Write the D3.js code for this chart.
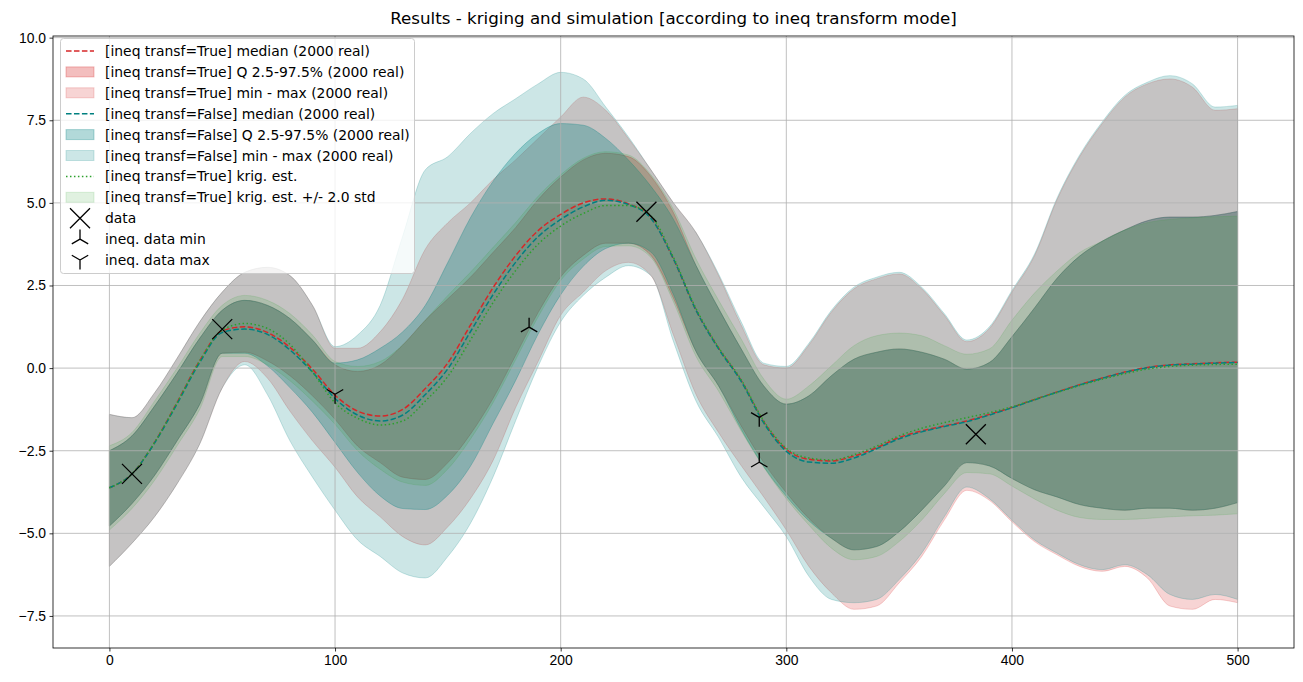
<!DOCTYPE html>
<meta charset="utf-8">
<html>
<head><title>Results - kriging and simulation</title>
<script src="https://cdn.jsdelivr.net/npm/d3@7/dist/d3.min.js"></script>
<style>
    body { margin: 0; background: #fff; }
    svg { font-family: "DejaVu Sans", sans-serif; }
    .tick text { font-size: 13.9px; fill: #000; }
    .tick line { stroke: #000; stroke-width: 0.8; }
    .grid { stroke: #b0b0b0; stroke-width: 0.8; }
</style>
</head>
<body>
<script>
// sample locations (x), every 10 units
var xs = d3.range(0, 501, 10);

// medians of the 2000 realisations
var medTrue  = [-3.62,-3.2,-2.25,-1.04,0.22,1.13,1.25,1.08,0.63,-0.03,-0.82,-1.3,-1.45,-1.25,-0.62,0.16,1.3,2.43,3.4,4.16,4.65,5.0,5.12,4.97,4.55,3.3,1.75,0.6,-0.38,-1.63,-2.46,-2.76,-2.81,-2.66,-2.41,-2.1,-1.9,-1.75,-1.6,-1.4,-1.19,-0.95,-0.72,-0.5,-0.3,-0.12,0.02,0.1,0.13,0.16,0.18];
var medFalse = [-3.62,-3.2,-2.27,-1.08,0.17,1.08,1.18,1.02,0.55,-0.12,-0.92,-1.42,-1.6,-1.42,-0.8,-0.02,1.1,2.22,3.2,3.98,4.5,4.88,5.08,4.95,4.53,3.3,1.75,0.58,-0.4,-1.66,-2.52,-2.84,-2.88,-2.72,-2.44,-2.14,-1.93,-1.77,-1.62,-1.42,-1.2,-0.96,-0.73,-0.51,-0.31,-0.13,0.01,0.09,0.12,0.15,0.17];
var krigEst  = [-3.62,-3.2,-2.25,-1.05,0.22,1.15,1.35,1.2,0.72,-0.12,-1.05,-1.52,-1.72,-1.6,-1.0,-0.25,0.85,1.98,2.95,3.75,4.3,4.68,4.92,4.92,4.6,3.35,1.8,0.62,-0.35,-1.6,-2.43,-2.72,-2.78,-2.62,-2.36,-2.05,-1.82,-1.65,-1.5,-1.35,-1.17,-0.95,-0.74,-0.53,-0.34,-0.17,-0.03,0.05,0.09,0.11,0.12];

// quantile bands 2.5 - 97.5 %
var trueQlo  = [-4.78,-4.1,-3.25,-2.2,-1.1,0.45,0.48,0.22,-0.23,-0.84,-1.55,-2.36,-2.86,-3.3,-3.37,-2.86,-2.0,-0.92,0.38,1.68,2.76,3.41,3.78,3.78,3.41,2.11,0.5,-0.54,-1.75,-2.86,-3.77,-4.55,-5.15,-5.5,-5.4,-4.95,-4.3,-3.57,-2.86,-2.96,-3.34,-3.68,-3.9,-4.13,-4.24,-4.3,-4.24,-4.24,-4.3,-4.24,-4.07];
var trueQhi  = [-2.5,-2.05,-1.15,-0.15,0.9,1.75,2.05,1.9,1.5,0.85,0.1,-0.1,0.1,0.7,1.45,2.1,2.75,3.5,4.25,5.1,5.78,6.3,6.5,6.4,5.8,4.7,3.1,1.8,0.58,-0.54,-1.09,-0.84,-0.23,0.27,0.48,0.58,0.48,0.27,-0.03,0.17,0.95,1.82,2.72,3.39,3.84,4.18,4.46,4.57,4.57,4.62,4.74];
var falseQlo = [-4.78,-4.1,-3.25,-2.2,-1.1,0.45,0.45,0.07,-0.59,-1.34,-2.25,-3.16,-3.87,-4.25,-4.28,-3.84,-2.97,-1.68,-0.38,1.03,2.22,3.08,3.62,3.78,3.51,2.22,0.5,-0.54,-1.85,-2.98,-3.88,-4.62,-5.15,-5.5,-5.4,-4.95,-4.3,-3.57,-2.86,-2.96,-3.34,-3.68,-3.9,-4.13,-4.24,-4.3,-4.24,-4.24,-4.3,-4.24,-4.07];
var falseQhi = [-2.5,-2.05,-1.15,-0.15,0.9,1.75,2.05,1.9,1.5,0.85,0.15,0.25,0.6,1.1,1.9,3.2,4.55,5.65,6.5,7.1,7.4,7.35,6.95,6.3,5.5,4.5,3.1,1.8,0.58,-0.54,-1.09,-0.84,-0.23,0.27,0.48,0.58,0.48,0.27,-0.03,0.17,0.95,1.82,2.72,3.39,3.84,4.18,4.46,4.57,4.57,4.62,4.74];

// min - max envelopes
var trueMin  = [-6.0,-5.3,-4.5,-3.5,-2.3,-0.6,0.2,-0.3,-1.3,-2.2,-3.0,-3.9,-4.5,-5.1,-5.35,-4.8,-3.95,-2.8,-1.2,0.2,1.6,2.3,2.95,3.2,2.8,1.0,-0.8,-1.95,-2.95,-3.9,-4.9,-6.0,-6.8,-7.3,-7.2,-6.5,-5.7,-4.6,-3.7,-4.0,-4.65,-5.25,-5.65,-6.0,-6.15,-6.0,-6.35,-7.2,-7.3,-7.0,-7.1];
var trueMax  = [-1.4,-1.5,-0.75,0.3,1.4,2.3,2.9,3.05,2.8,1.9,0.6,0.6,1.1,2.1,3.6,4.4,5.0,5.7,6.3,6.95,7.6,8.2,7.8,6.95,6.0,5.0,4.1,2.8,1.3,0.1,0.0,0.7,1.7,2.4,2.7,2.85,2.4,1.6,0.8,1.2,2.3,3.4,5.1,6.4,7.4,8.2,8.6,8.75,8.5,7.8,7.85];
var falseMin = [-6.0,-5.3,-4.5,-3.5,-2.3,-0.6,0.1,-0.8,-2.2,-3.3,-4.3,-5.2,-5.7,-6.2,-6.35,-5.7,-4.7,-3.3,-1.6,0.05,1.4,2.2,2.75,3.1,2.8,0.8,-1.0,-2.1,-3.3,-4.2,-5.1,-6.3,-7.0,-7.1,-7.0,-6.4,-5.6,-4.5,-3.6,-3.95,-4.6,-5.2,-5.6,-5.95,-6.1,-5.95,-6.25,-6.85,-7.0,-6.85,-7.0];
var falseMax = [-1.4,-1.5,-0.75,0.3,1.4,2.3,2.9,3.05,2.8,1.9,0.65,1.0,1.9,4.0,6.0,6.4,7.1,7.7,8.15,8.6,8.95,8.75,7.9,7.0,6.0,5.0,4.1,2.85,1.4,0.15,0.05,0.75,1.75,2.45,2.75,2.9,2.45,1.65,0.85,1.25,2.35,3.45,5.15,6.45,7.45,8.25,8.65,8.85,8.6,7.9,7.95];

// kriging +/- 2 std
var krigLo = [-4.9,-4.25,-3.4,-2.35,-1.25,0.35,0.35,0.1,-0.38,-1.0,-1.7,-2.5,-3.06,-3.45,-3.55,-3.05,-2.15,-1.05,0.25,1.55,2.65,3.3,3.68,3.7,3.35,2.0,0.35,-0.7,-1.9,-3.0,-3.95,-4.75,-5.45,-5.8,-5.7,-5.25,-4.6,-3.8,-3.16,-3.2,-3.57,-3.96,-4.3,-4.52,-4.58,-4.58,-4.55,-4.5,-4.47,-4.45,-4.41];
var krigHi = [-2.35,-1.95,-1.0,0.0,1.05,1.9,2.2,2.05,1.65,1.0,0.2,0.05,0.2,0.7,1.45,2.2,2.9,3.65,4.4,5.2,5.85,6.35,6.55,6.45,5.85,4.8,3.3,2.05,0.88,-0.33,-0.94,-0.54,0.07,0.68,0.98,1.06,0.98,0.68,0.42,0.58,1.45,2.27,2.94,3.5,3.84,4.18,4.4,4.5,4.55,4.58,4.6];

// conditioning data
var dataX = [10, 50, 238, 384];
var dataY = [-3.2, 1.18, 4.73, -2.0];
var ineqMinX = [186, 288];
var ineqMinY = [1.24, -2.85];
var ineqMaxX = [100, 288];
var ineqMaxY = [-0.79, -1.49];

var xTicks = [0, 100, 200, 300, 400, 500];
var yTicks = [-7.5, -5.0, -2.5, 0.0, 2.5, 5.0, 7.5, 10.0];

var W = 1303, H = 682;
var axL = 53, axR = 1294, axT = 36, axB = 648;

var red = "#d62728", teal = "#008080", green = "#2ca02c";

var svg = d3.select("body").append("svg")
    .attr("width", W).attr("height", H);

var x = d3.scaleLinear().domain([-25, 525]).range([axL, axR]);
var y = d3.scaleLinear().domain([-8.47, 10.05]).range([axB, axT]);

svg.append("defs").append("clipPath").attr("id", "clip")
    .append("rect").attr("x", axL).attr("y", axT)
    .attr("width", axR - axL).attr("height", axB - axT);

var plot = svg.append("g").attr("clip-path", "url(#clip)");

function band(lo, hi, color, alpha) {
    var area = d3.area()
        .x(function(d, i) { return x(xs[i]); })
        .y0(function(d, i) { return y(lo[i]); })
        .y1(function(d, i) { return y(hi[i]); })
        .curve(d3.curveMonotoneX);
    plot.append("path")
        .attr("d", area(xs))
        .attr("fill", color).attr("fill-opacity", alpha)
        .attr("stroke", color).attr("stroke-opacity", alpha)
        .attr("stroke-width", 1);
}

band(trueQlo, trueQhi, red, 0.3);
band(trueMin, trueMax, red, 0.2);
band(falseQlo, falseQhi, teal, 0.3);
band(falseMin, falseMax, teal, 0.2);
band(krigLo, krigHi, green, 0.15);

// grid (above fills, below lines)
plot.selectAll(".gx").data(xTicks).enter().append("line")
    .attr("class", "grid")
    .attr("x1", d => x(d)).attr("x2", d => x(d))
    .attr("y1", axT).attr("y2", axB);
plot.selectAll(".gy").data(yTicks).enter().append("line")
    .attr("class", "grid")
    .attr("x1", axL).attr("x2", axR)
    .attr("y1", d => y(d)).attr("y2", d => y(d));

function curve(vals, color, dash) {
    var line = d3.line()
        .x(function(d, i) { return x(xs[i]); })
        .y(function(d) { return y(d); })
        .curve(d3.curveMonotoneX);
    plot.append("path")
        .attr("d", line(vals))
        .attr("fill", "none")
        .attr("stroke", color).attr("stroke-width", 1.5)
        .attr("stroke-dasharray", dash);
}
curve(medTrue, red, "5.55,2.4");
curve(medFalse, teal, "5.55,2.4");
curve(krigEst, green, "1.5,2.475");

// markers
var xMark = "M-10,-10L10,10M-10,10L10,-10";
var triUp = "M0,0L0,-9.5M0,0L-8.2,4.75M0,0L8.2,4.75";
var triDown = "M0,0L0,9.5M0,0L-8.2,-4.75M0,0L8.2,-4.75";

function markers(xv, yv, path) {
    plot.selectAll(null).data(xv).enter().append("path")
        .attr("d", path)
        .attr("transform", function(d, i) { return "translate(" + x(d) + "," + y(yv[i]) + ")"; })
        .attr("fill", "none").attr("stroke", "#000").attr("stroke-width", 1.3);
}
markers(dataX, dataY, xMark);
markers(ineqMinX, ineqMinY, triUp);
markers(ineqMaxX, ineqMaxY, triDown);

// axes
var xAxis = d3.axisBottom(x).tickValues(xTicks).tickSize(3.5).tickPadding(3.5)
    .tickFormat(d3.format("d"));
svg.append("g").attr("transform", "translate(0," + axB + ")").call(xAxis)
    .call(g => g.select(".domain").remove());
var yAxis = d3.axisLeft(y).tickValues(yTicks).tickSize(3.5).tickPadding(3.5)
    .tickFormat(d3.format(".1f"));
svg.append("g").attr("transform", "translate(" + axL + ",0)").call(yAxis)
    .call(g => g.select(".domain").remove());

svg.append("rect")
    .attr("x", axL).attr("y", axT)
    .attr("width", axR - axL).attr("height", axB - axT)
    .attr("fill", "none").attr("stroke", "#000").attr("stroke-width", 0.8);

svg.append("text")
    .attr("x", (axL + axR) / 2).attr("y", 24)
    .attr("text-anchor", "middle")
    .attr("font-size", "16.7px")
    .text("Results - kriging and simulation [according to ineq transform mode]");

// legend
var legendItems = [
    {label: "[ineq transf=True] median (2000 real)", type: "line", color: red, dash: "5.55,2.4"},
    {label: "[ineq transf=True] Q 2.5-97.5% (2000 real)", type: "patch", color: red, alpha: 0.3},
    {label: "[ineq transf=True] min - max (2000 real)", type: "patch", color: red, alpha: 0.2},
    {label: "[ineq transf=False] median (2000 real)", type: "line", color: teal, dash: "5.55,2.4"},
    {label: "[ineq transf=False] Q 2.5-97.5% (2000 real)", type: "patch", color: teal, alpha: 0.3},
    {label: "[ineq transf=False] min - max (2000 real)", type: "patch", color: teal, alpha: 0.2},
    {label: "[ineq transf=True] krig. est.", type: "line", color: green, dash: "1.5,2.475"},
    {label: "[ineq transf=True] krig. est. +/- 2.0 std", type: "patch", color: green, alpha: 0.15},
    {label: "data", type: "marker", path: xMark},
    {label: "ineq. data min", type: "marker", path: triUp},
    {label: "ineq. data max", type: "marker", path: triDown}
];

var leg = svg.append("g");
leg.append("rect")
    .attr("x", 60.5).attr("y", 38.5).attr("width", 354).attr("height", 235)
    .attr("rx", 3).attr("fill", "#fff").attr("fill-opacity", 0.8)
    .attr("stroke", "#cccccc").attr("stroke-width", 1);

legendItems.forEach(function(it, i) {
    var cy = 51 + i * 20.9;
    var g = leg.append("g");
    if (it.type === "line") {
        g.append("line").attr("x1", 66).attr("x2", 94).attr("y1", cy).attr("y2", cy)
            .attr("stroke", it.color).attr("stroke-width", 1.5)
            .attr("stroke-dasharray", it.dash);
    } else if (it.type === "patch") {
        g.append("rect").attr("x", 66).attr("y", cy - 5).attr("width", 28).attr("height", 10)
            .attr("fill", it.color).attr("fill-opacity", it.alpha)
            .attr("stroke", it.color).attr("stroke-opacity", it.alpha);
    } else {
        g.append("path").attr("d", it.path)
            .attr("transform", "translate(80," + cy + ")")
            .attr("fill", "none").attr("stroke", "#000").attr("stroke-width", 1.3);
    }
    g.append("text").attr("x", 105).attr("y", cy).attr("dy", "0.36em")
        .attr("font-size", "13.9px").text(it.label);
});
</script>
</body>
</html>
